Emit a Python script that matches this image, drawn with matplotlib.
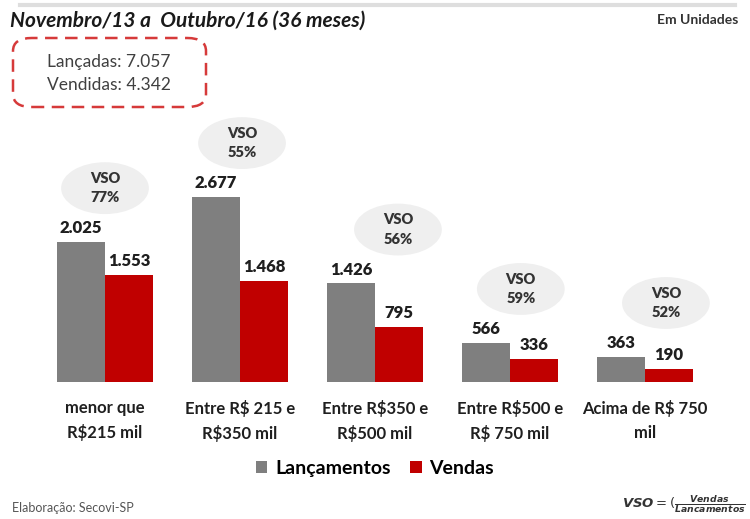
import numpy as np
import matplotlib
matplotlib.use("Agg")
import matplotlib.pyplot as plt
from matplotlib.patches import Ellipse, FancyBboxPatch
from matplotlib.lines import Line2D

plt.rcParams['font.family'] = ['Lato', 'DejaVu Sans']

# data
categorias = ["menor que\nR\\$215 mil", "Entre R\\$ 215 e\nR\\$350 mil", "Entre R\\$350 e\nR\\$500 mil",
              "Entre R\\$500 e\nR\\$ 750 mil", "Acima de R\\$ 750\nmil"]
lancamentos = [2025, 2677, 1426, 566, 363]
vendas = [1553, 1468, 795, 336, 190]
vso = [77, 55, 56, 59, 52]
total_lancadas = "7.057"
total_vendidas = "4.342"

CINZA = "#7f7f7f"
VERMELHO = "#c00000"
TXT = "#1f1f1f"

def fmt(v):
    return f"{v:,}".replace(",", ".")

fig = plt.figure(figsize=(7.5, 5.19), dpi=100)
ax = fig.add_axes([0.05, 0.264, 0.9, 0.5326])

x = np.arange(len(categorias))
w = 0.356
b1 = ax.bar(x - w/2, lancamentos, w, color=CINZA, label="Lançamentos")
b2 = ax.bar(x + w/2, vendas, w, color=VERMELHO, label="Vendas")

for xi, v in zip(x, lancamentos):
    ax.annotate(fmt(v), (xi - w/2, v), xytext=(0, 4), textcoords="offset points",
                ha="center", va="bottom", fontsize=12, fontweight="heavy", color=TXT)
for xi, v in zip(x, vendas):
    ax.annotate(fmt(v), (xi + w/2, v), xytext=(0, 4), textcoords="offset points",
                ha="center", va="bottom", fontsize=12, fontweight="heavy", color=TXT)

# balões VSO
dx_balao = [0.0, 0.015, 0.17, 0.08, 0.155]
for xi, v, p, d in zip(x, lancamentos, vso, dx_balao):
    cx, cy = xi + d, v + 780
    ax.add_patch(Ellipse((cx, cy), 0.65, 750, facecolor="#efefef", edgecolor="none", zorder=1))
    ax.text(cx, cy, f"VSO\n{p}%", ha="center", va="center", fontsize=10.5,
            fontweight="heavy", color="#333333", linespacing=1.6, zorder=2)

ax.set_xlim(-0.5, 4.5)
ax.set_ylim(0, 4000)
ax.set_yticks([])
ax.set_xticks(x)
ax.set_xticklabels(categorias, fontsize=12, fontweight="bold", color=TXT, linespacing=1.6)
ax.tick_params(axis="x", length=0, pad=13)
for s in ax.spines.values():
    s.set_visible(False)

fig.legend(handles=[b1, b2], loc="center", bbox_to_anchor=(0.5, 0.097), ncol=2, frameon=False,
           handlelength=0.6, handleheight=0.6, handletextpad=0.4, columnspacing=1.0,
           prop={"family": "Lato", "weight": "bold", "size": 14})

# cabeçalho
fig.add_artist(Line2D([20/750, 735/750], [1 - 5/519, 1 - 5/519], color="#dedede", lw=3))
fig.text(10/750, 1 - 21/519, "Novembro/13 a  Outubro/16 (36 meses)", fontsize=15,
         fontweight="bold", fontstyle="italic", color="#1a1a1a", va="center", ha="left")
fig.text(738/750, 1 - 20/519, "Em Unidades", fontsize=10, fontweight="bold",
         color="#333333", va="center", ha="right")

caixa = FancyBboxPatch((13/750, 1 - 107/519), 193/750, 69/519, transform=fig.transFigure,
                       boxstyle="round,pad=0,rounding_size=0.025", facecolor="none",
                       edgecolor="#d63a3a", lw=1.8, linestyle=(0, (5, 3)))
fig.add_artist(caixa)
fig.text(109/750, 1 - 62/519, f"Lançadas: {total_lancadas}", fontsize=12.5, color="#404040",
         ha="center", va="center")
fig.text(109/750, 1 - 85/519, f"Vendidas: {total_vendidas}", fontsize=12.5, color="#404040",
         ha="center", va="center")

# rodapé
fig.text(12/750, 1 - 508/519, "Elaboração: Secovi-SP", fontsize=9, color="#555555",
         ha="left", va="center")
fig.text(746/750, 1 - 504/519, r"$\mathbfit{VSO} = (\frac{\mathbfit{Vendas}}{\mathbfit{Lancamentos}}$",
         fontsize=9.5, color="#333333", ha="right", va="center")

fig.savefig("out.png", dpi=100)
